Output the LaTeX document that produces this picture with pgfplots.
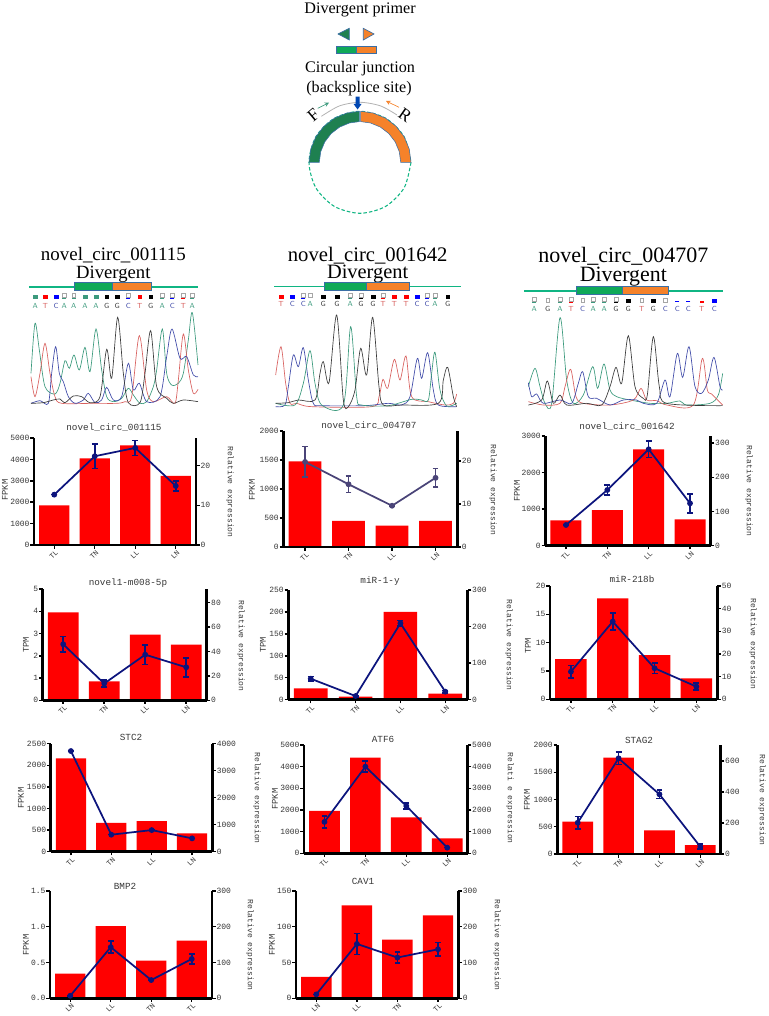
\documentclass[border=0pt]{standalone}
\usepackage{fontspec}
\setmainfont{Liberation Serif}
\setmonofont{Liberation Mono}
\usepackage{pgfplots}
\pgfplotsset{compat=1.18}

\definecolor{barred}{RGB}{255,0,0}
\definecolor{navy}{RGB}{12,20,125}
\definecolor{slate}{RGB}{74,68,120}
\definecolor{txt}{RGB}{55,55,55}
\definecolor{trgreen}{RGB}{60,154,125}
\definecolor{trred}{RGB}{216,97,95}
\definecolor{trblue}{RGB}{63,74,168}
\definecolor{trblack}{RGB}{58,58,58}
\definecolor{boxgreen}{RGB}{15,169,88}
\definecolor{boxorange}{RGB}{245,130,42}
\definecolor{boxedge}{RGB}{58,110,165}
\definecolor{lineg}{RGB}{16,181,131}
\definecolor{ringgreen}{RGB}{30,128,80}

% 1px = 0.75pt
\newcommand{\fs}[1]{\fontsize{#1pt}{#1pt}\selectfont}
\pgfplotsset{
  chartbase/.style n args={4}{
    scale only axis, anchor=south west,
    at={({#1*0.75pt},{(1016-#4)*0.75pt})},
    width={(#2-#1)*0.75pt}, height={(#4-#3)*0.75pt},
    xmin=-0.5, xmax=3.5, ymin=0, clip=false, axis on top,
    every outer x axis line/.append style={-, line width=1.9pt},
    every outer y axis line/.append style={-, line width=1.9pt},
    every inner x axis line/.append style={-, line width=1.9pt},
    every inner y axis line/.append style={-, line width=1.9pt},
    x axis line style={-, line width=1.9pt},
    y axis line style={-, line width=1.9pt},
    tick style={black, line width=1.1pt},
    major tick length=2.7pt, tick align=outside,
    scaled y ticks=false,
    y tick label style={font=\ttfamily\fs{6}, text=txt, inner sep=0.5pt,
      /pgf/number format/.cd, assume math mode=true, 1000 sep={}},
  },
  chartleft/.style n args={4}{
    chartbase={#1}{#2}{#3}{#4},
    axis y line*=left, axis x line*=bottom,
    xtick={0,1,2,3},
    x tick label style={font=\ttfamily\fs{5.5}, text=txt, rotate=45, anchor=north east,
      inner sep=1pt, xshift=1pt},
  },
  chartright/.style n args={4}{
    chartbase={#1}{#2}{#3}{#4},
    axis y line*=right, axis x line=none, xtick=\empty,
  },
  bars/.style={ybar, bar shift=0pt, bar width=0.75, fill=barred, draw=none},
  trend/.style={color=#1, line width=1.3pt, mark=*, mark size=1.5pt,
    error bars/.cd, y dir=both, y explicit,
    error bar style={line width=1.2pt},
    error mark options={rotate=90, mark size=2.2pt, line width=1.2pt}},
  trend/.default=navy,
  panel/.style 2 args={
    scale only axis, anchor=south west, hide axis, clip=false,
    at={({#1*0.75pt},{(1016-#2-330)*0.75pt})},
    width=195pt, height=247.5pt,
    xmin=0, xmax=780, ymin=0, ymax=990, y dir=reverse,
  },
  tr/.style={color=#1, smooth, line width=0.5pt},
}
\newcommand{\sq}[2]{\addplot[only marks, mark=square*, mark size=1.4pt, color=#1] coordinates {#2};}
\newcommand{\ds}[2]{\addplot[only marks, mark=-, mark size=1.5pt, line width=1pt, color=#1] coordinates {#2};}
\newcommand{\eb}[1]{\addplot[only marks, mark=square, mark size=1.4pt, line width=0.3pt, color=gray!70] coordinates {#1};}
\newcommand{\ltr}[4]{\node[font=\sffamily\fs{5.5}, text=#4, inner sep=0pt] at (axis cs:#1,#2) {#3};}
\newcommand{\ctitle}[3]{\node[font=\ttfamily\fs{7}, text=txt, inner sep=0pt] at (axis cs:#1,#2) {#3};}
\newcommand{\lbl}[3]{\node[font=\ttfamily\fs{6.6}, text=txt, rotate=90, inner sep=0pt] at (axis cs:#1,#2) {#3};}
\newcommand{\rlbl}[3]{\node[font=\ttfamily\fs{6}, text=txt, rotate=-90, inner sep=0pt] at (axis cs:#1,#2) {#3};}

\begin{document}
\begin{tikzpicture}
\path[use as bounding box] (0,0) rectangle (576pt,762pt);

% schematic, headings of the charts
\begin{axis}[scale only axis, anchor=south west, at={(0,0)}, width=576pt, height=762pt,
  xmin=0, xmax=768, ymin=0, ymax=1016, y dir=reverse, hide axis, clip=false]
  \node[font=\fs{12.1}] at (axis cs:360,10) {Divergent primer};
  \node[font=\fs{12.1}] at (axis cs:360,69) {Circular junction};
  \node[font=\fs{12.1}] at (axis cs:359,89) {(backsplice site)};
  \addplot[fill=ringgreen, draw=boxedge, line width=0.5pt] coordinates {(338,34)(349.3,28.3)(349.3,40)} -- cycle;
  \addplot[fill=boxorange, draw=boxedge, line width=0.5pt] coordinates {(363.3,28.3)(374,34)(363.3,40)} -- cycle;
  \addplot[fill=boxgreen, draw=boxedge, line width=0.6pt] coordinates {(336.7,46)(356.7,46)(356.7,53.3)(336.7,53.3)} -- cycle;
  \addplot[fill=boxorange, draw=boxedge, line width=0.6pt] coordinates {(356.7,46)(376.7,46)(376.7,53.3)(356.7,53.3)} -- cycle;
  % dashed circle
  \addplot[smooth, lineg, line width=0.8pt, dash pattern=on 2.6pt off 1.6pt] coordinates {
    (411,162.3)(404.17,187.8)(385.5,206.47)(360,213.3)(334.5,206.47)(315.83,187.8)(309,162.3)
    (315.83,136.8)(334.5,118.13)(360,111.3)(385.5,118.13)(404.17,136.8)(411,162.3)};
  % ring
  \addplot[fill=ringgreen, draw=boxedge, line width=0.4pt] coordinates {
    (309,162.3)(310.74,149.1)(315.83,136.8)(323.94,126.24)(334.5,118.13)(346.8,113.04)(359.4,111.3)
    (359.4,121.6)(349.47,122.99)(339.65,127.05)(331.22,133.52)(324.75,141.95)(320.69,151.77)(319.3,162.3)} -- cycle;
  \addplot[fill=boxorange, draw=boxedge, line width=0.4pt] coordinates {
    (360.6,111.3)(373.2,113.04)(385.5,118.13)(396.06,126.24)(404.17,136.8)(409.26,149.1)(411,162.3)
    (400.7,162.3)(399.31,151.77)(395.25,141.95)(388.78,133.52)(380.35,127.05)(370.53,122.99)(360.6,121.6)} -- cycle;
  \addplot[smooth, gray!60, line width=0.6pt] coordinates {(321.4,116.3)(339.5,105.9)(360,102.3)(380.5,105.9)(397,115)};
  \addplot[fill=blue!60!cyan!70!black, draw=none] coordinates {
    (355.6,96.7)(359.5,96.7)(359.5,104)(361.5,104)(357.6,109.5)(353.6,104)(355.6,104)} -- cycle;
  \addplot[-stealth, color=trgreen, line width=0.5pt] coordinates {(317.7,108.3)(329,102.7)};
  \addplot[-stealth, color=boxorange, line width=0.5pt] coordinates {(399,107.3)(386,101)};
  \node[font=\fs{13}, rotate=40] at (axis cs:313.3,115) {F};
  \node[font=\fs{13}, rotate=-35] at (axis cs:405,115) {R};

  \ctitle{114}{427.7}{novel\_circ\_001115}
  \ctitle{369}{426}{novel\_circ\_004707}
  \ctitle{627}{427}{novel\_circ\_001642}
  \ctitle{128}{582.7}{novel1-m008-5p}
  \ctitle{380}{580.7}{miR-1-y}
  \ctitle{632}{579}{miR-218b}
  \ctitle{131}{737.7}{STC2}
  \ctitle{383}{739}{ATF6}
  \ctitle{639}{740.7}{STAG2}
  \ctitle{125}{886}{BMP2}
  \ctitle{363}{881.7}{CAV1}

  \lbl{5}{490}{FPKM}     \rlbl{230}{492}{Relative expression}
  \lbl{252}{490}{FPKM}   \rlbl{493}{490}{Relative expression}
  \lbl{517}{491}{FPKM}   \rlbl{749}{491}{Relative expression}
  \lbl{26}{645}{TPM}     \rlbl{241}{646}{Relative expression}
  \lbl{263}{645}{TPM}    \rlbl{509}{645}{Relative expression}
  \lbl{528}{646}{TPM}    \rlbl{753}{644}{Relative expression}
  \lbl{21}{798}{FPKM}    \rlbl{257}{798}{Relative expression}
  \lbl{275}{799}{FPKM}   \rlbl{510}{798}{Relati e expression}
  \lbl{527}{800}{FPKM}   \rlbl{762}{800}{Relative expression}
  \lbl{26}{945}{FPKM}    \rlbl{250}{945}{Relative expression}
  \lbl{272}{945}{FPKM}   \rlbl{497}{945}{Relative expression}
\end{axis}

% sequencing panels, coordinates are 3x pixels inside each panel
\begin{axis}[panel={0}{240}]
  \node[font=\fs{14.2}] at (axis cs:340,44) {novel\_circ\_001115};
  \node[font=\fs{14}] at (axis cs:340,102) {Divergent};
  \addplot[lineg, line width=1pt] coordinates {(87,141)(593,141)};
  \addplot[fill=boxgreen, draw=boxedge, line width=0.6pt] coordinates {(222,127)(338,127)(338,152)(222,152)} -- cycle;
  \addplot[fill=boxorange, draw=boxedge, line width=0.6pt] coordinates {(338,127)(455,127)(455,152)(338,152)} -- cycle;
  \sq{trgreen}{(106,170)(255,170)(288,170)}
  \sq{red}{(136,170)(419,170)}
  \sq{blue}{(168,170)}
  \sq{black}{(320,170)(352,170)(452,170)}
  \ds{trgreen}{(193,174)(221,174)(487,174)(577,174)}
  \ds{blue}{(385,174)(517,174)}
  \ds{red}{(550,174)}
  \eb{(193,165)(221,165)(385,165)(487,165)(517,165)(550,165)(577,165)}
  \ltr{106}{198}{A}{trgreen}\ltr{136}{198}{T}{trred}\ltr{168}{198}{C}{trblue}\ltr{193}{198}{A}{trgreen}
  \ltr{221}{198}{A}{trgreen}\ltr{255}{198}{A}{trgreen}\ltr{288}{198}{A}{trgreen}\ltr{320}{198}{G}{trblack}
  \ltr{352}{198}{G}{trblack}\ltr{385}{198}{C}{trblue}\ltr{419}{198}{T}{trred}\ltr{452}{198}{G}{trblack}
  \ltr{487}{198}{A}{trgreen}\ltr{517}{198}{C}{trblue}\ltr{550}{198}{T}{trred}\ltr{577}{198}{A}{trgreen}
  \addplot[tr=trgreen] coordinates {(93,400)(105,250)(118,330)(135,440)(165,462)(180,430)(195,362)(208,385)(222,345)(238,390)(255,322)(270,395)(288,267)(305,390)(320,470)(340,485)(365,475)(385,445)(400,465)(420,490)(440,485)(460,440)(470,390)(487,267)(500,400)(515,435)(535,430)(550,400)(565,300)(577,218)(594,375)};
  \addplot[tr=trred] coordinates {(93,410)(105,470)(120,400)(135,310)(150,400)(165,470)(185,490)(280,490)(350,490)(375,485)(395,470)(418,287)(440,450)(460,485)(500,470)(525,490)(535,420)(550,282)(565,390)(580,460)(594,448)};
  \addplot[tr=trblue] coordinates {(93,490)(120,482)(145,490)(155,400)(167,320)(178,400)(190,425)(205,470)(225,490)(250,480)(265,460)(285,488)(305,480)(320,442)(340,480)(365,470)(385,370)(400,450)(418,430)(440,485)(480,470)(500,350)(516,267)(540,355)(560,350)(580,405)(594,410)};
  \addplot[tr=trblack] coordinates {(93,490)(130,488)(160,480)(180,477)(195,488)(220,468)(245,470)(270,488)(300,470)(320,328)(335,415)(353,232)(370,400)(385,488)(420,488)(435,400)(452,272)(470,440)(500,475)(520,490)(550,480)(594,485)};
\end{axis}

\begin{axis}[panel={255}{240}]
  \node[font=\fs{15.5}] at (axis cs:338,47) {novel\_circ\_001642};
  \node[font=\fs{15.3}] at (axis cs:338,102) {Divergent};
  \addplot[lineg, line width=1pt] coordinates {(58,139)(617,139)};
  \addplot[fill=boxgreen, draw=boxedge, line width=0.6pt] coordinates {(207,126)(335,126)(335,150)(207,150)} -- cycle;
  \addplot[fill=boxorange, draw=boxedge, line width=0.6pt] coordinates {(335,126)(463,126)(463,150)(335,150)} -- cycle;
  \sq{red}{(78,170)(418,170)(453,170)}
  \sq{blue}{(112,170)(486,170)}
  \sq{black}{(205,170)(246,170)(354,170)(578,170)}
  \ds{blue}{(145,174)(516,174)}
  \ds{trgreen}{(286,174)(540,174)}
  \ds{black}{(318,174)}
  \ds{red}{(384,174)}
  \eb{(145,165)(166,165)(286,165)(318,165)(384,165)(516,165)(540,165)}
  \ltr{78}{193}{T}{trred}\ltr{112}{193}{C}{trblue}\ltr{145}{193}{C}{trblue}\ltr{166}{193}{A}{trgreen}
  \ltr{205}{193}{G}{trblack}\ltr{246}{193}{G}{trblack}\ltr{286}{193}{A}{trgreen}\ltr{318}{193}{G}{trblack}
  \ltr{354}{193}{G}{trblack}\ltr{384}{193}{T}{trred}\ltr{418}{193}{T}{trred}\ltr{453}{193}{T}{trred}
  \ltr{486}{193}{C}{trblue}\ltr{516}{193}{C}{trblue}\ltr{540}{193}{A}{trgreen}\ltr{578}{193}{G}{trblack}
  \addplot[tr=trred] coordinates {(62,405)(78,320)(92,430)(105,490)(125,490)(170,500)(350,500)(372,470)(384,418)(398,445)(418,358)(435,420)(453,348)(470,470)(520,485)(570,495)(595,490)(605,462)};
  \addplot[tr=trblue] coordinates {(62,500)(90,495)(100,440)(115,345)(130,380)(145,323)(160,420)(175,490)(200,497)(330,497)(400,490)(440,495)(465,470)(487,355)(500,415)(518,338)(535,450)(550,495)(605,500)};
  \addplot[tr=trgreen] coordinates {(62,490)(120,495)(145,430)(165,332)(180,430)(200,495)(265,495)(287,260)(305,470)(320,495)(400,497)(470,478)(500,480)(520,480)(530,400)(540,337)(555,450)(575,498)(605,490)};
  \addplot[tr=trblack] coordinates {(62,490)(100,488)(130,480)(180,480)(195,400)(205,365)(222,428)(245,225)(265,480)(280,500)(300,450)(317,325)(335,405)(353,232)(372,440)(385,495)(440,495)(550,490)(565,420)(578,382)(595,470)(605,500)};
\end{axis}

\begin{axis}[panel={510}{240}]
  \node[font=\fs{16.5}] at (axis cs:340,50) {novel\_circ\_004707};
  \node[font=\fs{16.4}] at (axis cs:340,110) {Divergent};
  \addplot[lineg, line width=1pt] coordinates {(42,153)(638,153)};
  \addplot[fill=boxgreen, draw=boxedge, line width=0.6pt] coordinates {(200,138)(338,138)(338,164)(200,164)} -- cycle;
  \addplot[fill=boxorange, draw=boxedge, line width=0.6pt] coordinates {(338,138)(474,138)(474,164)(338,164)} -- cycle;
  \sq{black}{(355,182)(430,182)}
  \sq{blue}{(613,182)}
  \ds{trgreen}{(73,186)(150,186)(250,186)(283,186)}
  \ds{red}{(183,186)(575,186)}
  \ds{black}{(318,186)}
  \ds{blue}{(502,184)(535,184)}
  \eb{(73,177)(113,180)(150,177)(183,177)(218,180)(250,177)(283,177)(318,177)(395,180)(466,180)}
  \ltr{73}{207}{A}{trgreen}\ltr{113}{207}{G}{trblack}\ltr{150}{207}{A}{trgreen}\ltr{183}{207}{T}{trred}
  \ltr{218}{207}{C}{trblue}\ltr{250}{207}{A}{trgreen}\ltr{283}{207}{A}{trgreen}\ltr{318}{207}{G}{trblack}
  \ltr{355}{207}{G}{trblack}\ltr{395}{207}{T}{trred}\ltr{430}{207}{G}{trblack}\ltr{466}{207}{C}{trblue}
  \ltr{502}{207}{C}{trblue}\ltr{535}{207}{C}{trblue}\ltr{575}{207}{T}{trred}\ltr{613}{207}{C}{trblue}
  \addplot[tr=trgreen] coordinates {(55,440)(75,385)(90,440)(105,490)(125,490)(150,233)(170,420)(190,490)(220,465)(248,380)(263,445)(282,372)(300,450)(320,470)(360,480)(420,490)(470,490)(510,483)(530,495)(600,490)(625,465)(638,400)};
  \addplot[tr=trred] coordinates {(55,485)(100,495)(150,490)(165,440)(182,388)(198,470)(220,490)(300,495)(370,480)(393,445)(410,480)(440,482)(470,495)(550,495)(577,355)(592,450)(605,462)(638,495)};
  \addplot[tr=trblue] coordinates {(55,428)(65,470)(80,462)(100,490)(150,480)(185,490)(205,430)(218,395)(235,470)(260,475)(300,495)(340,480)(380,480)(400,490)(440,490)(465,420)(480,470)(502,340)(518,412)(537,320)(555,440)(575,460)(595,420)(612,352)(630,440)(638,450)};
  \addplot[tr=trblack] coordinates {(55,495)(95,480)(112,423)(130,490)(150,465)(170,495)(230,490)(275,495)(300,440)(318,382)(335,430)(355,287)(375,440)(400,475)(412,465)(430,290)(448,440)(470,490)(638,497)};
\end{axis}

% row 1
\begin{axis}[chartleft={34}{196}{438}{545}, ymax=5000, ytick={0,1000,2000,3000,4000,5000}, xticklabels={TL,TN,LL,LN}]
  \addplot[bars] coordinates {(0,1850)(1,4050)(2,4650)(3,3230)};
\end{axis}
\begin{axis}[chartright={34}{196}{438}{545}, ymax=27, ytick={0,10,20}]
  \addplot[trend] coordinates {(0,12.7) +- (0,0) (1,22.4) +- (0,3.1) (2,24.5) +- (0,1.9) (3,14.9) +- (0,1.3)};
\end{axis}

\begin{axis}[chartleft={283.3}{457.3}{431}{547}, ymax=2000, ytick={0,500,1000,1500,2000}, xticklabels={TL,TN,LL,LN}]
  \addplot[bars] coordinates {(0,1475)(1,450)(2,370)(3,450)};
\end{axis}
\begin{axis}[chartright={283.3}{457.3}{431}{547}, ymax=27, ytick={0,10,20}]
  \addplot[trend=slate] coordinates {(0,19.8) +- (0,3.55) (1,14.6) +- (0,1.9) (2,9.6) +- (0,0) (3,16.1) +- (0,2.15)};
\end{axis}

\begin{axis}[chartleft={545.3}{710.7}{436}{545.7}, ymax=3000, ytick={0,1000,2000,3000}, xticklabels={TL,TN,LL,LN}]
  \addplot[bars] coordinates {(0,693)(1,975)(2,2635)(3,720)};
\end{axis}
\begin{axis}[chartright={545.3}{710.7}{436}{545.7}, ymax=321, ytick={0,100,200,300}]
  \addplot[trend] coordinates {(0,60.6) +- (0,0) (1,163) +- (0,15) (2,282) +- (0,23.5) (3,124) +- (0,28)};
\end{axis}

% row 2
\begin{axis}[chartleft={42.7}{206.7}{589}{700.3}, ymax=5, ytick={0,1,2,3,4,5}, xticklabels={TL,TN,LL,LN}]
  \addplot[bars] coordinates {(0,3.95)(1,0.85)(2,2.95)(3,2.5)};
\end{axis}
\begin{axis}[chartright={42.7}{206.7}{589}{700.3}, ymax=91, ytick={0,20,40,60,80}]
  \addplot[trend] coordinates {(0,45.8) +- (0,6.4) (1,13.7) +- (0,3) (2,37.3) +- (0,8) (3,27) +- (0,7.8)};
\end{axis}

\begin{axis}[chartleft={288.3}{467.7}{590}{699.7}, ymax=250, ytick={0,50,100,150,200,250}, xticklabels={TL,TN,LL,LN}]
  \addplot[bars] coordinates {(0,26)(1,7)(2,200)(3,14)};
\end{axis}
\begin{axis}[chartright={288.3}{467.7}{590}{699.7}, ymax=300, ytick={0,100,200,300}]
  \addplot[trend] coordinates {(0,57.4) +- (0,6) (1,10) +- (0,2) (2,209) +- (0,8) (3,22) +- (0,3)};
\end{axis}

\begin{axis}[chartleft={550}{717.3}{586}{699.3}, ymax=20, ytick={0,5,10,15,20}, xticklabels={TL,TN,LL,LN}]
  \addplot[bars] coordinates {(0,7.1)(1,17.8)(2,7.8)(3,3.7)};
\end{axis}
\begin{axis}[chartright={550}{717.3}{586}{699.3}, ymax=50, ytick={0,10,20,30,40,50}]
  \addplot[trend] coordinates {(0,12.2) +- (0,2.7) (1,34.3) +- (0,3.8) (2,13.7) +- (0,2.3) (3,5.6) +- (0,1.5)};
\end{axis}

% row 3
\begin{axis}[chartleft={50.7}{212.3}{743.7}{851.7}, ymax=2500, ytick={0,500,1000,1500,2000,2500}, xticklabels={TL,TN,LL,LN}]
  \addplot[bars] coordinates {(0,2160)(1,670)(2,710)(3,425)};
\end{axis}
\begin{axis}[chartright={50.7}{212.3}{743.7}{851.7}, ymax=4000, ytick={0,1000,2000,3000,4000}]
  \addplot[trend] coordinates {(0,3728) +- (0,0) (1,630) +- (0,0) (2,800) +- (0,0) (3,494) +- (0,0)};
\end{axis}

\begin{axis}[chartleft={304}{467.7}{745}{853.3}, ymax=5000, ytick={0,1000,2000,3000,4000,5000}, xticklabels={TL,TN,LL,LN}]
  \addplot[bars] coordinates {(0,1954)(1,4415)(2,1660)(3,692)};
\end{axis}
\begin{axis}[chartright={304}{467.7}{745}{853.3}, ymax=5000, ytick={0,1000,2000,3000,4000,5000}]
  \addplot[trend] coordinates {(0,1450) +- (0,280) (1,4000) +- (0,250) (2,2185) +- (0,150) (3,260) +- (0,0)};
\end{axis}

\begin{axis}[chartleft={557.3}{720.7}{745}{854}, ymax=2000, ytick={0,500,1000,1500,2000}, xticklabels={TL,TN,LL,LN}]
  \addplot[bars] coordinates {(0,593)(1,1768)(2,434)(3,165)};
\end{axis}
\begin{axis}[chartright={557.3}{720.7}{745}{854}, ymax=703, ytick={0,200,400,600}]
  \addplot[trend] coordinates {(0,202) +- (0,40) (1,617) +- (0,40) (2,385) +- (0,27) (3,47) +- (0,16)};
\end{axis}

% row 4
\begin{axis}[chartleft={50}{212}{891}{998.3}, ymax=1.5, ytick={0,0.5,1,1.5}, xticklabels={LN,LL,TN,TL},
  y tick label style={/pgf/number format/.cd, fixed, fixed zerofill, precision=1}]
  \addplot[bars] coordinates {(0,0.345)(1,1.01)(2,0.525)(3,0.805)};
\end{axis}
\begin{axis}[chartright={50}{212}{891}{998.3}, ymax=300, ytick={0,100,200,300}]
  \addplot[trend] coordinates {(0,7) +- (0,0) (1,143) +- (0,17) (2,51) +- (0,0) (3,110) +- (0,14)};
\end{axis}

\begin{axis}[chartleft={296}{458.3}{891}{998.3}, ymax=150, ytick={0,50,100,150}, xticklabels={LN,LL,TN,TL}]
  \addplot[bars] coordinates {(0,30)(1,130)(2,82)(3,116)};
\end{axis}
\begin{axis}[chartright={296}{458.3}{891}{998.3}, ymax=300, ytick={0,100,200,300}]
  \addplot[trend] coordinates {(0,11) +- (0,0) (1,152) +- (0,29) (2,114) +- (0,16) (3,137) +- (0,19)};
\end{axis}
\end{tikzpicture}
\end{document}
